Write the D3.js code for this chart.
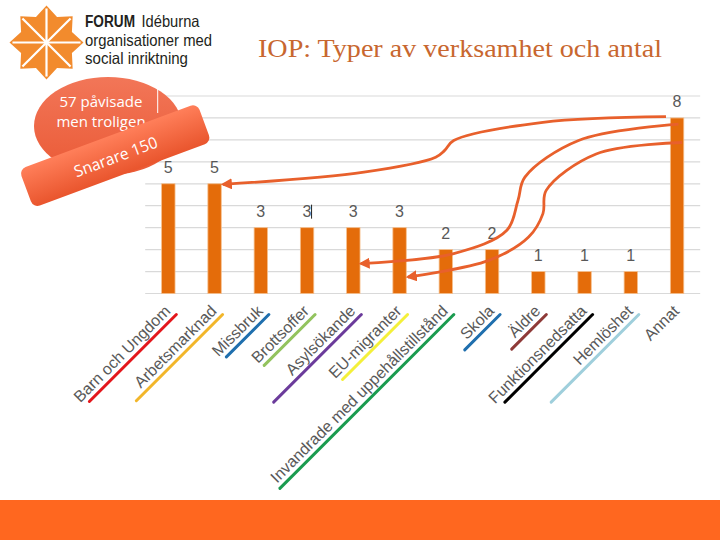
<!DOCTYPE html>
<html>
<head>
<meta charset="utf-8">
<script src="https://cdn.jsdelivr.net/npm/d3@7"></script>
<style>
  body { margin: 0; background: #fff; }
</style>
</head>
<body>
<div id="chart"></div>
<script>
// ------------------------------
// Data
// ------------------------------
const categories = ["Barn och Ungdom", "Arbetsmarknad", "Missbruk", "Brottsoffer",
  "Asylsökande", "EU-migranter", "Invandrade med uppehållstillstånd", "Skola",
  "Äldre", "Funktionsnedsatta", "Hemlöshet", "Annat"];
const values = [5, 5, 3, 3, 3, 3, 2, 2, 1, 1, 1, 8];
const gridValues = [0, 1, 2, 3, 4, 5, 6, 7, 8, 9];

// hand drawn underlines under each label (colour, length along the label)
const underlineColors = ["#e3171c", "#f2b62a", "#1f6fae", "#92c35e", "#6b3b9b", "#f4f03a",
  "#1a9b4f", "#1f6fae", "#8e3a38", "#000000", "#9fcfdc", null];
const underlineLengths = [123, 122, 60, 72, 124, 92, 246, 50, 49, 124, 124, 0];

// annotation arrows from "Annat" back to other bars, in (category index, value) units
const arrows = [
  [[10.76, 8.06], [8.10, 7.80], [6.17, 6.97], [5.97, 6.51], [5.78, 6.21], [4.23, 5.53], [1.18, 4.97]],
  [[11.03, 7.72], [8.87, 6.97], [7.71, 5.30], [7.56, 4.24], [7.32, 2.88], [6.17, 1.82], [4.16, 1.36]],
  [[11.11, 6.88], [9.25, 6.36], [8.17, 4.70], [8.10, 3.64], [7.79, 2.57], [6.93, 1.51], [5.18, 0.75]]
];

// ------------------------------
// SVG
// ------------------------------
const width = 720, height = 540;
const svg = d3.select("#chart").append("svg")
  .attr("width", width)
  .attr("height", height)
  .style("background", "#fff");

const defs = svg.append("defs");

// scales
const x = d3.scaleBand()
  .domain(categories)
  .range([145.2, 700.2])
  .paddingInner(0.71)
  .paddingOuter(0.355);
const y = d3.scaleLinear().domain([0, 9]).range([293.5, 96]);
const cx = c => x(c) + x.bandwidth() / 2;
const xi = d3.scaleLinear().domain([0, categories.length - 1])
  .range([cx(categories[0]), cx(categories[categories.length - 1])]);

// ------------------------------
// Header: logo and title
// ------------------------------
const star = svg.append("g").attr("transform", "translate(46.5,42.5)");
const starPts = d3.range(16).map(i => {
  const r = i % 2 === 0 ? 37 : 27.5;
  const a = i * Math.PI / 8 - Math.PI / 2;
  return [r * Math.cos(a), r * Math.sin(a)];
});
star.append("polygon")
  .attr("points", starPts.map(p => p.join(",")).join(" "))
  .attr("fill", "#f28b2d");
star.selectAll("line")
  .data(starPts.filter((p, i) => i % 2 === 0))
  .join("line")
  .attr("x1", 0).attr("y1", 0)
  .attr("x2", d => d[0] * 0.92).attr("y2", d => d[1] * 0.92)
  .attr("stroke", "#fff")
  .attr("stroke-width", 2.2);

const logoFont = "'Liberation Sans Narrow', 'Liberation Sans', Arial, sans-serif";
const logoLines = [
  { t: "FORUM", x: 85, y: 27, w: 50, bold: true },
  { t: "Idéburna", x: 141.5, y: 27, w: 58, bold: false },
  { t: "organisationer med", x: 85, y: 45.5, w: 127, bold: false },
  { t: "social inriktning", x: 85, y: 63.5, w: 103, bold: false }
];
svg.append("g")
  .selectAll("text")
  .data(logoLines)
  .join("text")
  .attr("x", d => d.x).attr("y", d => d.y)
  .attr("textLength", d => d.w).attr("lengthAdjust", "spacingAndGlyphs")
  .style("font-family", logoFont).style("font-size", "16.5px")
  .style("font-weight", d => d.bold ? "bold" : "normal")
  .attr("fill", "#231f20")
  .text(d => d.t);

svg.append("text")
  .attr("x", 258).attr("y", 56.5)
  .attr("textLength", 404).attr("lengthAdjust", "spacingAndGlyphs")
  .style("font-family", "'Liberation Serif', 'Times New Roman', serif")
  .style("font-size", "26px")
  .attr("fill", "#c8672f")
  .text("IOP: Typer av verksamhet och antal");

// ------------------------------
// Chart
// ------------------------------
svg.append("g")
  .selectAll("line")
  .data(gridValues)
  .join("line")
  .attr("x1", x.range()[0]).attr("x2", x.range()[1])
  .attr("y1", d => y(d)).attr("y2", d => y(d))
  .attr("stroke", "#d9d9d9")
  .attr("stroke-width", 1.2);

svg.append("g")
  .selectAll("rect")
  .data(values)
  .join("rect")
  .attr("x", (d, i) => x(categories[i]))
  .attr("y", d => y(d))
  .attr("width", x.bandwidth())
  .attr("height", d => y(0) - y(d))
  .attr("fill", "#e46c0a")
  .attr("stroke", "#f6c08e")
  .attr("stroke-width", 0.8);

svg.append("g")
  .selectAll("text")
  .data(values)
  .join("text")
  .attr("x", (d, i) => cx(categories[i]))
  .attr("y", d => y(d) - 10.5)
  .attr("text-anchor", "middle")
  .style("font-family", "'Liberation Sans', Arial, sans-serif")
  .style("font-size", "16px")
  .attr("fill", "#595959")
  .text(d => d);

// little text cursor next to the Brottsoffer value
svg.append("line")
  .attr("x1", cx("Brottsoffer") + 4.5).attr("x2", cx("Brottsoffer") + 4.5)
  .attr("y1", y(3) - 23).attr("y2", y(3) - 9)
  .attr("stroke", "#222").attr("stroke-width", 1);

// rotated category labels with coloured underlines
const s = Math.SQRT1_2;
const labelY = 312;
const labels = svg.append("g");
categories.forEach((c, i) => {
  const ax = cx(c) + 3;
  labels.append("text")
    .attr("transform", `translate(${ax},${labelY}) rotate(-45)`)
    .attr("text-anchor", "end")
    .style("font-family", "'Liberation Sans', Arial, sans-serif")
    .style("font-size", "16px")
    .attr("fill", "#595959")
    .text(c);
  if (underlineColors[i]) {
    const x0 = ax + 5.3 * s + 1.8 * s, y0 = labelY + 5.3 * s - 1.8 * s;
    const L = underlineLengths[i];
    labels.append("line")
      .attr("x1", x0).attr("y1", y0)
      .attr("x2", x0 - L * s).attr("y2", y0 + L * s)
      .attr("stroke", underlineColors[i])
      .attr("stroke-width", 3)
      .attr("stroke-linecap", "round");
  }
});

// ------------------------------
// Arrows
// ------------------------------
defs.append("marker")
  .attr("id", "arrowhead")
  .attr("viewBox", "0 0 10 10")
  .attr("refX", 8).attr("refY", 5)
  .attr("markerWidth", 4).attr("markerHeight", 4)
  .attr("orient", "auto")
  .append("path")
  .attr("d", "M0,0 L10,5 L0,10 z")
  .attr("fill", "#e8602c");

const arrowLine = d3.line()
  .x(d => xi(d[0]))
  .y(d => y(d[1]))
  .curve(d3.curveCatmullRom.alpha(0.5));

svg.append("g")
  .selectAll("path")
  .data(arrows)
  .join("path")
  .attr("d", arrowLine)
  .attr("fill", "none")
  .attr("stroke", "#e8602c")
  .attr("stroke-width", 2.8)
  .attr("marker-end", "url(#arrowhead)");

// ------------------------------
// Callout
// ------------------------------
const g1 = defs.append("linearGradient").attr("id", "blob")
  .attr("x1", "0%").attr("y1", "0%").attr("x2", "0%").attr("y2", "100%");
g1.append("stop").attr("offset", "0%").attr("stop-color", "#f27658");
g1.append("stop").attr("offset", "100%").attr("stop-color", "#ea5a36");
const g2 = defs.append("linearGradient").attr("id", "band")
  .attr("x1", "0%").attr("y1", "0%").attr("x2", "0%").attr("y2", "100%");
g2.append("stop").attr("offset", "0%").attr("stop-color", "#ff7f5a");
g2.append("stop").attr("offset", "100%").attr("stop-color", "#e9552d");

const callout = svg.append("g");
callout.append("ellipse")
  .attr("cx", 108).attr("cy", 126).attr("rx", 74).attr("ry", 49)
  .attr("fill", "url(#blob)");
callout.append("line")
  .attr("x1", 157.7).attr("x2", 157.7).attr("y1", 88).attr("y2", 113)
  .attr("stroke", "#fff").attr("stroke-width", 1);
callout.selectAll("text.c")
  .data(["57 påvisade", "men troligen"])
  .join("text")
  .attr("class", "c")
  .attr("x", 101).attr("y", (d, i) => 106.5 + i * 20)
  .attr("text-anchor", "middle")
  .style("font-family", "'Open Sans', 'Noto Sans', sans-serif")
  .style("font-size", "15px")
  .attr("fill", "#fff")
  .text(d => d);

const bandG = callout.append("g")
  .attr("transform", "translate(115.2,155.6) rotate(-20.4)");
bandG.append("rect")
  .attr("x", -95).attr("y", -20.5).attr("width", 190).attr("height", 41)
  .attr("rx", 7)
  .attr("fill", "url(#band)");
bandG.append("text")
  .attr("x", 0).attr("y", 7)
  .attr("text-anchor", "middle")
  .attr("textLength", 88).attr("lengthAdjust", "spacingAndGlyphs")
  .style("font-family", "'Open Sans', 'Noto Sans', sans-serif")
  .style("font-size", "16px")
  .attr("fill", "#fff")
  .text("Snarare 150");

// ------------------------------
// Footer band
// ------------------------------
svg.append("rect")
  .attr("x", 0).attr("y", 500).attr("width", width).attr("height", 40)
  .attr("fill", "#ff671f");
</script>
</body>
</html>
